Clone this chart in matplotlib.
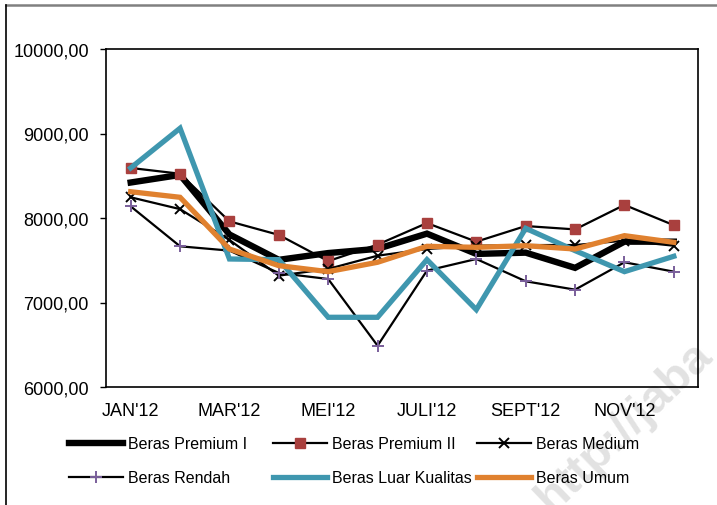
import matplotlib
matplotlib.use("Agg")
import matplotlib.pyplot as plt
from matplotlib.lines import Line2D

plt.rcParams['font.family'] = ['Liberation Sans', 'DejaVu Sans']

months = ["JAN'12", "FEB'12", "MAR'12", "APR'12", "MEI'12", "JUNI'12",
          "JULI'12", "AGST'12", "SEPT'12", "OKT'12", "NOV'12", "DES'12"]
premium_1 = [8420, 8510, 7805, 7505, 7585, 7635, 7815, 7575, 7590, 7410, 7720, 7720]
premium_2 = [8592, 8524, 7960, 7800, 7490, 7685, 7940, 7720, 7905, 7865, 8155, 7915]
medium = [8245, 8105, 7740, 7318, 7397, 7554, 7633, 7672, 7680, 7680, 7732, 7672]
rendah = [8138, 7665, 7614, 7349, 7278, 6489, 7377, 7515, 7251, 7152, 7476, 7365]
luar_kualitas = [8592, 9062, 7515, 7507, 6825, 6825, 7507, 6915, 7878, 7614, 7365, 7547]
umum = [8311, 8245, 7633, 7436, 7365, 7476, 7665, 7653, 7672, 7633, 7791, 7712]
yticks = [6000, 7000, 8000, 9000, 10000]

W, H = 717, 506
fig = plt.figure(figsize=(W / 100, H / 100), dpi=100)
ax = fig.add_axes([106 / W, 1 - 388 / H, (698.5 - 106) / W, (388 - 50) / H])
ax.set_facecolor('none')

x = list(range(len(months)))
red = '#A9403E'
purple = '#7A5F9B'
teal = '#3F97AF'
orange = '#E0812F'

series = [
    ("Beras Premium I", premium_1, dict(color='black', lw=4.6)),
    ("Beras Premium II", premium_2, dict(color='black', lw=1.6, marker='s', ms=7,
                                         mfc=red, mec=red)),
    ("Beras Medium", medium, dict(color='black', lw=1.6, marker='x', ms=6.5,
                                  mew=1.4, mec='black')),
    ("Beras Rendah", rendah, dict(color='black', lw=1.6, marker='+', ms=8,
                                  mew=1.4, mec=purple)),
    ("Beras Luar Kualitas", luar_kualitas, dict(color=teal, lw=3.8)),
    ("Beras Umum", umum, dict(color=orange, lw=3.8)),
]

handles = []
for label, vals, kw in series:
    ln, = ax.plot(x, vals, label=label, solid_joinstyle='miter', **kw)
    handles.append(ln)

ax.set_xlim(-0.5, len(months) - 0.5)
ax.set_ylim(6000, 10000)
ax.set_yticks(yticks)
ax.set_yticklabels([f"{v:.2f}".replace('.', ',') for v in yticks], fontsize=13)
ax.set_xticks(x[::2])
ax.set_xticklabels(months[::2], fontsize=13)
ax.tick_params(axis='y', length=4.3, width=1.0, pad=8, direction='out')
ax.tick_params(axis='x', length=0, pad=11)
for s in ax.spines.values():
    s.set_linewidth(1.2)
    s.set_color('black')

# legend entries
pos = [(69, 445), (273, 445), (477, 445), (69, 479), (273, 479), (477, 479)]
for h, (px, py) in zip(handles, pos):
    fig.legend([h], [h.get_label()], loc='center left',
               bbox_to_anchor=(px / W, 1 - py / H), frameon=False,
               borderpad=0, borderaxespad=0, handlelength=3.35,
               handletextpad=0.35, fontsize=11.5, numpoints=1)

# outer frame lines
fig.add_artist(Line2D([6 / W, 1], [1 - 6 / H, 1 - 6 / H], color='#808080', lw=1.8,
                      transform=fig.transFigure))
fig.add_artist(Line2D([6 / W, 6 / W], [0, 1 - 6 / H], color='black', lw=1.2,
                      transform=fig.transFigure))

# watermark (cropped in the reference)
fig.text(552 / W, 1 - 514 / H, "http://jaba", rotation=44, rotation_mode='anchor',
         fontsize=34, fontweight='bold', color='#e2e2e2', ha='left', va='baseline',
         zorder=-10)

fig.savefig("out.png", dpi=100)
